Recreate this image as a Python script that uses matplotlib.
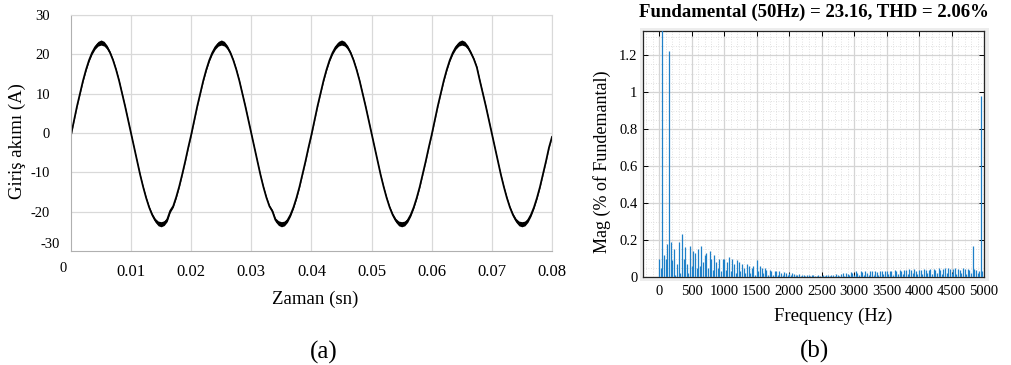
import numpy as np
import matplotlib
matplotlib.use("Agg")
import matplotlib.pyplot as plt
from matplotlib.patches import Rectangle
from matplotlib.ticker import MultipleLocator

plt.rcParams['font.family'] = ['Liberation Serif', 'DejaVu Serif']

t_ms = np.arange(0, 161) * 0.5
current = [
    # 0 - 19.5 ms
    -0.5, 3.2, 6.8, 10.1, 13.3, 16.1, 18.5, 20.4, 21.8, 22.7,
    23.0, 22.7, 21.8, 20.4, 18.5, 16.1, 13.3, 10.1, 6.8, 3.3,
    -0.3, -3.8, -7.3, -10.6, -13.7, -16.5, -18.9, -20.8, -22.2, -23.0,
    -23.2, -22.9, -22.0, -19.8, -18.6, -16.3, -13.6, -10.5, -7.2, -3.7,
    # 20 - 39.5 ms
    -0.4, 3.2, 6.8, 10.1, 13.3, 16.1, 18.5, 20.4, 21.8, 22.7,
    23.0, 22.7, 21.8, 20.4, 18.5, 16.1, 13.3, 10.1, 6.8, 3.3,
    -0.3, -3.8, -7.3, -10.6, -13.7, -16.4, -18.6, -19.9, -22.1, -22.9,
    -23.2, -23.0, -22.2, -20.8, -18.9, -16.5, -13.7, -10.5, -7.2, -3.7,
    # 40 - 59.5 ms
    -0.4, 3.2, 6.8, 10.1, 13.3, 16.1, 18.5, 20.4, 21.8, 22.7,
    23.0, 22.7, 21.8, 20.4, 18.5, 16.1, 13.3, 10.1, 6.8, 3.3,
    -0.3, -3.8, -7.3, -10.6, -13.7, -16.5, -18.9, -20.8, -22.2, -23.0,
    -23.2, -23.0, -22.2, -20.8, -18.9, -16.5, -13.7, -10.5, -7.2, -3.7,
    # 60 - 80 ms
    -0.4, 3.2, 6.8, 10.1, 13.3, 16.1, 18.5, 20.4, 21.8, 22.7,
    23.0, 22.7, 21.8, 20.4, 18.8, 16.7, 13.3, 10.1, 6.8, 3.3,
    -0.3, -3.8, -7.3, -10.6, -13.7, -16.5, -18.9, -20.8, -22.2, -23.0,
    -23.2, -23.0, -22.2, -20.8, -18.9, -16.5, -13.7, -10.5, -7.2, -3.7,
    -1.0,
]
# half thickness of the switching ripple band over one 20 ms period
ripple_cycle = [
    0.15, 0.15, 0.15, 0.15, 0.2, 0.25, 0.3, 0.4, 0.5, 0.6,
    0.65, 0.6, 0.5, 0.4, 0.3, 0.25, 0.2, 0.15, 0.15, 0.15,
    0.15, 0.15, 0.15, 0.15, 0.2, 0.25, 0.3, 0.4, 0.5, 0.6,
    0.65, 0.6, 0.5, 0.4, 0.3, 0.25, 0.2, 0.15, 0.15, 0.15,
]
ripple = ripple_cycle * 4 + [0.15]

# (b) FFT spectrum, bins every 25 Hz from 0 to 4975 Hz
freq_step = 25
spectrum = [
    # 0 - 475 Hz
    0.10, 0.05, 100.0, 0.12, 0.10, 0.18, 1.22, 0.19, 0.09, 0.15,
    0.01, 0.07, 0.19, 0.02, 0.23, 0.10, 0.16, 0.07, 0.02, 0.17,
    # 500 - 975 Hz
    0.06, 0.14, 0.13, 0.05, 0.15, 0.06, 0.17, 0.08, 0.12, 0.13,
    0.05, 0.14, 0.10, 0.04, 0.12, 0.08, 0.05, 0.10, 0.03, 0.10,
    # 1000 - 1475 Hz
    0.10, 0.04, 0.08, 0.11, 0.03, 0.10, 0.07, 0.02, 0.09, 0.08,
    0.03, 0.07, 0.05, 0.02, 0.07, 0.06, 0.02, 0.05, 0.06, 0.01,
    # 1500 - 1975 Hz
    0.09, 0.03, 0.06, 0.05, 0.02, 0.05, 0.04, 0.01, 0.04, 0.03,
    0.01, 0.03, 0.03, 0.01, 0.03, 0.02, 0.01, 0.025, 0.02, 0.01,
    # 2000 - 2475 Hz
    0.02, 0.01, 0.02, 0.015, 0.01, 0.01, 0.015, 0.005, 0.01, 0.01,
    0.005, 0.01, 0.01, 0.005, 0.01, 0.01, 0.004, 0.008, 0.01, 0.004,
    # 2500 - 2975 Hz
    0.008, 0.01, 0.005, 0.01, 0.012, 0.005, 0.012, 0.01, 0.006, 0.015,
    0.012, 0.006, 0.015, 0.02, 0.008, 0.02, 0.015, 0.01, 0.025, 0.02,
    # 3000 - 3475 Hz
    0.01, 0.03, 0.02, 0.01, 0.03, 0.025, 0.01, 0.03, 0.02, 0.012,
    0.03, 0.03, 0.012, 0.03, 0.025, 0.012, 0.035, 0.03, 0.015, 0.035,
    # 3500 - 3975 Hz
    0.03, 0.015, 0.035, 0.03, 0.012, 0.04, 0.03, 0.015, 0.04, 0.035,
    0.015, 0.04, 0.04, 0.015, 0.045, 0.04, 0.02, 0.045, 0.035, 0.015,
    # 4000 - 4475 Hz
    0.04, 0.04, 0.015, 0.045, 0.04, 0.02, 0.04, 0.045, 0.015, 0.045,
    0.04, 0.02, 0.05, 0.04, 0.015, 0.045, 0.05, 0.02, 0.05, 0.045,
    # 4500 - 4975 Hz
    0.02, 0.045, 0.05, 0.015, 0.045, 0.04, 0.02, 0.05, 0.045, 0.015,
    0.045, 0.04, 0.02, 0.17, 0.045, 0.04, 0.02, 0.03, 0.98, 0.03,
]
freqs = np.arange(len(spectrum)) * freq_step

x_ticks_a = [0.01, 0.02, 0.03, 0.04, 0.05, 0.06, 0.07, 0.08]
y_ticks_a = [-20, -10, 0, 10, 20, 30]
x_ticks_b = np.arange(0, 5001, 500)
y_ticks_b = [0, 0.2, 0.4, 0.6, 0.8, 1.0, 1.2]
y_labels_b = ['0', '0.2', '0.4', '0.6', '0.8', '1', '1.2']

W, H = 1012, 365
fig = plt.figure(figsize=(W / 100, H / 100), dpi=100)


def box(x0, y0, x1, y1):
    return [x0 / W, 1 - y1 / H, (x1 - x0) / W, (y1 - y0) / H]


def ftext(x, y, s, **kw):
    fig.text(x / W, 1 - y / H, s, ha=kw.pop('ha', 'center'), va=kw.pop('va', 'center'), **kw)


# ---------- (a) ----------
ax1 = fig.add_axes(box(71, 15, 552, 251))
t = t_ms / 1000.0
cur = np.array(current)
rip = np.array(ripple)
ax1.fill_between(t, cur - rip, cur + rip, color='black', lw=0)
ax1.plot(t, cur, color='black', lw=1.3)
ax1.set_xlim(0, 0.08)
ax1.set_ylim(-30, 30)
ax1.set_xticks(x_ticks_a)
ax1.set_xticklabels([f'{v:.2f}' for v in x_ticks_a], fontsize=12)
ax1.set_yticks(y_ticks_a)
ax1.set_yticklabels([str(v) for v in y_ticks_a], fontsize=10.5)
ax1.tick_params(length=0)
ax1.tick_params(axis='x', pad=9)
ax1.tick_params(axis='y', pad=15)
ax1.grid(True, color='#d9d9d9', lw=0.9)
ax1.set_axisbelow(True)
for s in ['top', 'right']:
    ax1.spines[s].set_color('#d9d9d9')
for s in ['left', 'bottom']:
    ax1.spines[s].set_color('#b0b0b0')
ftext(50, 244, '-30', fontsize=10.5)
ftext(63, 269, '0', fontsize=10.5)
ftext(17, 141, 'Giriş akımı (A)', fontsize=13.5, rotation=90)
ftext(315, 299, 'Zaman (sn)', fontsize=13.5)
ftext(324, 352, '(a)', fontsize=18)

# ---------- (b) ----------
fig.add_artist(Rectangle((640 / W, 1 - 281 / H), 349 / W, 253 / H,
                         transform=fig.transFigure, color='#ededed', lw=0, zorder=0))
ax2 = fig.add_axes(box(643, 31, 984, 277))
ax2.vlines(freqs, 0, spectrum, color='#1f80c8', lw=0.9, zorder=3)
ax2.set_xlim(-250, 5000)
ax2.set_ylim(0, 1.33)
ax2.set_xticks(x_ticks_b)
ax2.set_xticklabels([str(v) for v in x_ticks_b], fontsize=10.5)
ax2.set_yticks(y_ticks_b)
ax2.set_yticklabels(y_labels_b, fontsize=10.5)
ax2.xaxis.set_minor_locator(MultipleLocator(100))
ax2.yaxis.set_minor_locator(MultipleLocator(0.05))
ax2.tick_params(which='major', direction='in', length=3.5, width=0.7,
                top=True, right=True, color='black')
ax2.tick_params(which='minor', length=0)
ax2.tick_params(axis='x', pad=6)
ax2.tick_params(axis='y', pad=4)
ax2.grid(True, which='major', color='#d4d4d4', lw=0.9)
ax2.grid(True, which='minor', color='#d8d8d8', lw=0.6, linestyle=(0, (1, 2)))
ax2.set_axisbelow(True)
for s in ax2.spines.values():
    s.set_color('#262626')
    s.set_linewidth(0.9)
ftext(814, 12, 'Fundamental (50Hz) = 23.16, THD = 2.06%', fontsize=13.5, fontweight='bold')
ftext(602, 162, 'Mag (% of Fundemantal)', fontsize=13, rotation=90)
ftext(833, 316, 'Frequency (Hz)', fontsize=13.5)
ftext(815, 351, '(b)', fontsize=18)

fig.savefig('out.png', dpi=100)
